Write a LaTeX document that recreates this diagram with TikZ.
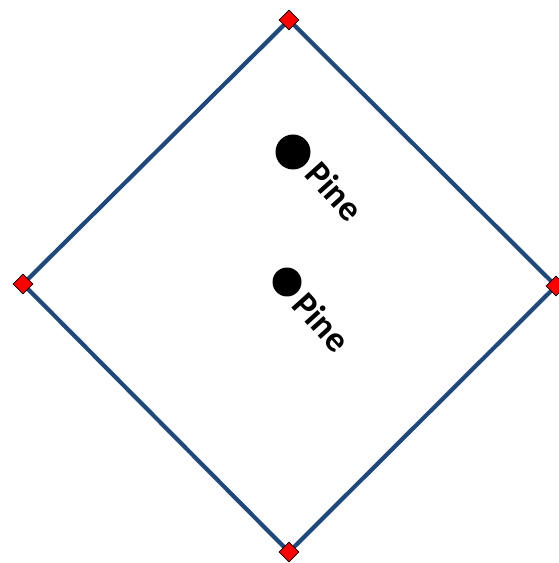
\documentclass[tikz,border=0pt]{standalone}
\usepackage{fontspec}
\setmainfont{Carlito}
\usetikzlibrary{shapes.geometric}
\definecolor{edgeblue}{RGB}{31,73,125}
\begin{document}
\begin{tikzpicture}[x=1pt,y=1pt,
  corner/.style={diamond,draw=black,fill=red,line width=0.8pt,inner sep=0pt,minimum size=20pt},
  edge/.style={draw=edgeblue,line width=4.2pt},
  treedot/.style={circle,fill=black,inner sep=0pt},
  lbl/.style={font=\bfseries\fontsize{36}{36}\selectfont,rotate=-48,inner sep=0pt}]
\useasboundingbox (0,0) rectangle (558,563);
\coordinate (T) at (289,543);
\coordinate (L) at (23,279);
\coordinate (B) at (289,11);
\coordinate (R) at (556,277);
\draw[edge,line join=round] (T) -- (R) -- (B) -- (L) -- cycle;
\node[corner] (cT) at (T) {};
\node[corner] (cL) at (L) {};
\node[corner] (cB) at (B) {};
\node[corner] (cR) at (R) {};
\node[treedot,minimum size=35pt] (d1) at (293,411) {};
\node[treedot,minimum size=29pt] (d2) at (287,281) {};
\node[lbl] (t1) at (335,372) {Pine};
\node[lbl] (t2) at (322,241) {Pine};
\end{tikzpicture}
\end{document}
